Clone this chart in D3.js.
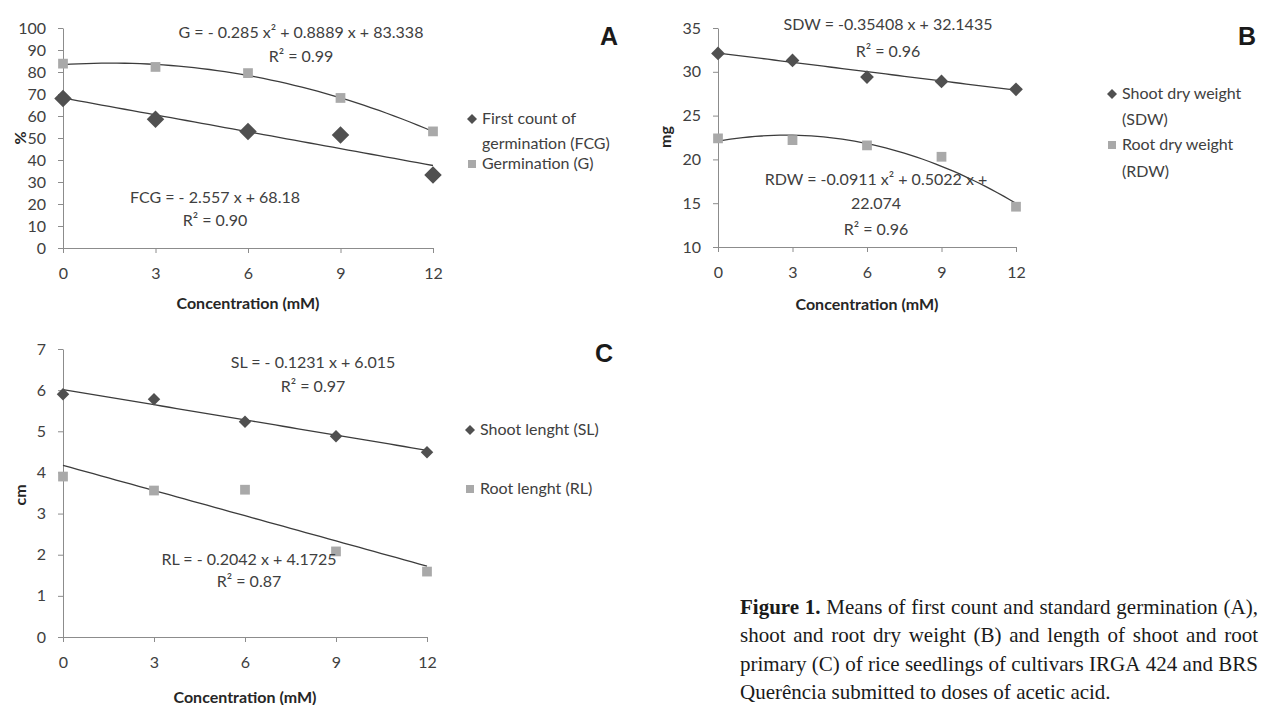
<!DOCTYPE html>
<html>
<head>
<meta charset="utf-8">
<script src="https://cdn.jsdelivr.net/npm/d3@7"></script>
<style>
  body { margin: 0; background: #fff; }
  svg { display: block; }
  .tick text { font-family: Lato, "Open Sans", sans-serif; font-size: 16px; fill: #404040; }
  .axis path, .axis line { stroke: #8c8c8c; }
  .lbl { font-family: Lato, "Open Sans", sans-serif; font-size: 16px; fill: #404040; }
  .ttl { font-family: Lato, "Open Sans", sans-serif; font-size: 16px; font-weight: bold; fill: #262626; }
  .letter { font-family: "Liberation Sans", Arial, sans-serif; font-size: 25px; font-weight: bold; fill: #1a1a1a; }
  .cap { font-family: "Liberation Serif", "Times New Roman", serif; font-size: 21px; fill: #1a1a1a; }
</style>
</head>
<body>
<div id="chart"></div>
<script>
(function() {

// concentrations (mM)
var conc = [0, 3, 6, 9, 12];

// A: germination (%)
var fcg  = [68, 58.5, 53, 51.4, 33.2];
var germ = [83.8, 82.3, 79.5, 68.2, 53];
// B: dry weight (mg)
var sdw = [32.1, 31.3, 29.4, 28.9, 28];
var rdw = [22.4, 22.2, 21.6, 20.3, 14.6];
// C: length (cm)
var sl = [5.9, 5.78, 5.23, 4.88, 4.49];
var rl = [3.9, 3.56, 3.58, 2.08, 1.59];

// trendline coefficients as printed on the chart [c0, c1, c2]
var fcgFit = [68.18, -2.557, 0];
var gFit   = [83.338, 0.8889, -0.285];
var sdwFit = [32.1435, -0.35408, 0];
var rdwFit = [22.074, 0.5022, -0.0911];
var slFit  = [6.015, -0.1231, 0];
var rlFit  = [4.1725, -0.2042, 0];

var xTicks = [0, 3, 6, 9, 12];

var svg = d3.select("#chart").append("svg")
    .attr("width", 1263)
    .attr("height", 705);

svg.append("rect").attr("width", 1263).attr("height", 705).attr("fill", "#fff");

var diamond = d3.symbol().type(d3.symbolDiamond2);
var square = d3.symbol().type(d3.symbolSquare2);

function marker(g, shape, size, cx, cy) {
  var sym = shape == "diamond" ? diamond.size(size * size) : square.size(size * size);
  g.append("path")
    .attr("d", sym())
    .attr("transform", "translate(" + cx + "," + cy + ")")
    .attr("fill", shape == "diamond" ? "#505050" : "#a9a9a9");
}

var panels = [
  { letter: "A", letterPos: [600, 45],
    xr: [63, 433], yr: [248, 28], ydom: [0, 100], yTicks: d3.range(0, 101, 10),
    yTitle: "%", yTitlePos: [20, 138], xTitleY: 309,
    series: [
      { values: fcg, fit: fcgFit, shape: "diamond", size: 14 },
      { values: germ, fit: gFit, shape: "square", size: 11 }
    ],
    eqs: [
      { lines: ["G = - 0.285 x\u00B2 + 0.8889 x + 83.338", "R\u00B2 = 0.99"], x: 301, y: [38, 62] },
      { lines: ["FCG = - 2.557 x + 68.18", "R\u00B2 = 0.90"], x: 215, y: [203, 226] }
    ],
    legend: [
      { shape: "diamond", mx: 472, my: 119, tx: 482, lines: ["First count of", "germination (FCG)"], ty: [124, 149] },
      { shape: "square", mx: 472, my: 164, tx: 482, lines: ["Germination (G)"], ty: [169] }
    ]
  },
  { letter: "B", letterPos: [1238, 45],
    xr: [718, 1016], yr: [247, 28], ydom: [10, 35], yTicks: d3.range(10, 36, 5),
    yTitle: "mg", yTitlePos: [665, 137], xTitleY: 310,
    series: [
      { values: sdw, fit: sdwFit, shape: "diamond", size: 11 },
      { values: rdw, fit: rdwFit, shape: "square", size: 11 }
    ],
    eqs: [
      { lines: ["SDW = -0.35408 x + 32.1435", "R\u00B2 = 0.96"], x: 888, y: [30, 57] },
      { lines: ["RDW = -0.0911 x\u00B2 + 0.5022 x +", "22.074", "R\u00B2 = 0.96"], x: 876, y: [185, 209, 235] }
    ],
    legend: [
      { shape: "diamond", mx: 1112, my: 94, tx: 1122, lines: ["Shoot dry weight", "(SDW)"], ty: [99, 125] },
      { shape: "square", mx: 1112, my: 145, tx: 1122, lines: ["Root dry weight", "(RDW)"], ty: [150, 177] }
    ]
  },
  { letter: "C", letterPos: [595, 362],
    xr: [63, 427], yr: [637, 349], ydom: [0, 7], yTicks: d3.range(0, 8, 1),
    yTitle: "cm", yTitlePos: [20, 495], xTitleY: 703,
    series: [
      { values: sl, fit: slFit, shape: "diamond", size: 10 },
      { values: rl, fit: rlFit, shape: "square", size: 11 }
    ],
    eqs: [
      { lines: ["SL = - 0.1231 x + 6.015", "R\u00B2 = 0.97"], x: 313, y: [368, 392] },
      { lines: ["RL = - 0.2042 x + 4.1725", "R\u00B2 = 0.87"], x: 249, y: [565, 587] }
    ],
    legend: [
      { shape: "diamond", mx: 470, my: 430, tx: 480, lines: ["Shoot lenght (SL)"], ty: [435] },
      { shape: "square", mx: 470, my: 489, tx: 480, lines: ["Root lenght (RL)"], ty: [494] }
    ]
  }
];

panels.forEach(function(p) {
  var x = d3.scaleLinear().domain([0, 12]).range(p.xr);
  var y = d3.scaleLinear().domain(p.ydom).range(p.yr);
  var g = svg.append("g");

  g.append("g")
    .attr("class", "axis")
    .attr("transform", "translate(0," + p.yr[0] + ")")
    .call(d3.axisBottom(x).tickValues(xTicks).tickSize(5).tickSizeOuter(0).tickPadding(15));

  g.append("g")
    .attr("class", "axis")
    .attr("transform", "translate(" + p.xr[0] + ",0)")
    .call(d3.axisLeft(y).tickValues(p.yTicks).tickFormat(d3.format("d"))
      .tickSize(5).tickSizeOuter(0).tickPadding(12));

  // trendlines
  p.series.forEach(function(s) {
    var c = s.fit;
    var pts = d3.range(0, 12.001, 0.25).map(function(t) { return [t, c[0] + c[1] * t + c[2] * t * t]; });
    g.append("path")
      .datum(pts)
      .attr("fill", "none")
      .attr("stroke", "#3c3c3c")
      .attr("stroke-width", 1.3)
      .attr("d", d3.line().x(function(d) { return x(d[0]); }).y(function(d) { return y(d[1]); }));
  });

  // points
  p.series.forEach(function(s) {
    s.values.forEach(function(v, i) {
      marker(g, s.shape, s.size, x(conc[i]), y(v));
    });
  });

  // equations
  p.eqs.forEach(function(e) {
    e.lines.forEach(function(t, i) {
      g.append("text").attr("class", "lbl")
        .attr("x", e.x).attr("y", e.y[i])
        .attr("text-anchor", "middle")
        .text(t);
    });
  });

  // legend
  p.legend.forEach(function(l) {
    marker(g, l.shape, l.shape == "diamond" ? 8 : 9, l.mx, l.my);
    l.lines.forEach(function(t, i) {
      g.append("text").attr("class", "lbl")
        .attr("x", l.tx).attr("y", l.ty[i])
        .text(t);
    });
  });

  g.append("text").attr("class", "ttl")
    .attr("x", (p.xr[0] + p.xr[1]) / 2).attr("y", p.xTitleY)
    .attr("text-anchor", "middle")
    .text("Concentration (mM)");

  g.append("text").attr("class", "ttl")
    .attr("transform", "translate(" + p.yTitlePos[0] + "," + p.yTitlePos[1] + ") rotate(-90)")
    .attr("text-anchor", "middle")
    .attr("dy", "0.35em")
    .text(p.yTitle);

  g.append("text").attr("class", "letter")
    .attr("x", p.letterPos[0]).attr("y", p.letterPos[1])
    .text(p.letter);
});

// caption, justified
var captionLines = [
  "Figure 1. Means of first count and standard germination (A),",
  "shoot and root dry weight (B) and length of shoot and root",
  "primary (C) of rice seedlings of cultivars IRGA 424 and BRS",
  "Querência submitted to doses of acetic acid."
];
var capLeft = 740, capRight = 1258, capY = [614, 642, 671, 699];

captionLines.forEach(function(line, li) {
  var words = line.split(" ");
  var nodes = words.map(function(w, wi) {
    var t = svg.append("text").attr("class", "cap").attr("y", capY[li]).text(w);
    if (li == 0 && wi < 2) t.attr("font-weight", "bold");
    return t;
  });
  var widths = nodes.map(function(n) { return n.node().getComputedTextLength(); });
  var total = d3.sum(widths);
  var gap = li < captionLines.length - 1 ? (capRight - capLeft - total) / (words.length - 1) : 5.3;
  var cx = capLeft;
  nodes.forEach(function(n, i) {
    n.attr("x", cx);
    cx += widths[i] + gap;
  });
});

})();
</script>
</body>
</html>
